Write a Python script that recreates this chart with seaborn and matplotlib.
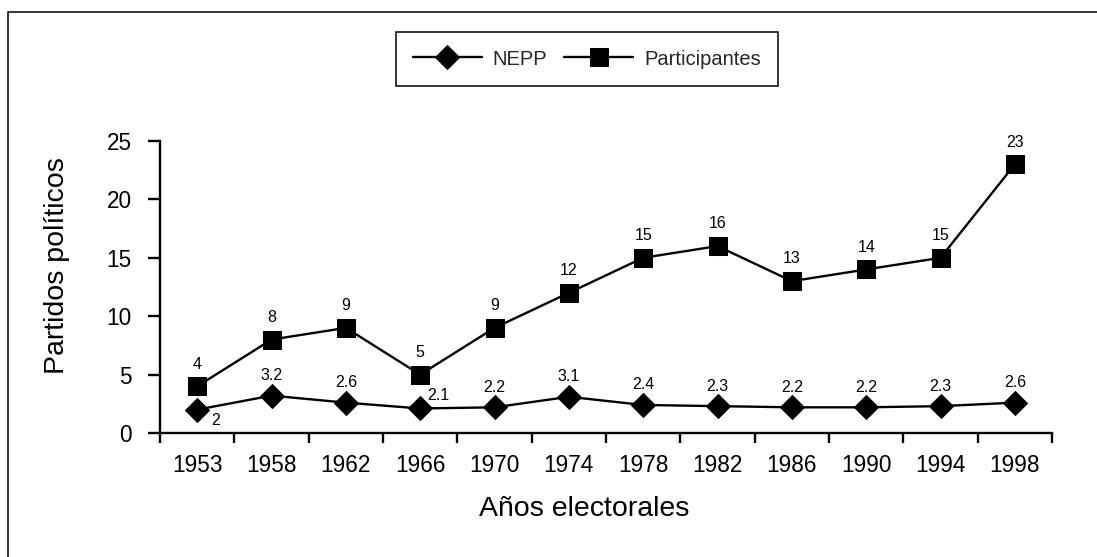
import matplotlib
matplotlib.use('Agg')
import matplotlib.pyplot as plt
import seaborn as sns
import numpy as np
from matplotlib.patches import Rectangle
from matplotlib.ticker import FixedLocator

# ---- data ----
years = ['1953', '1958', '1962', '1966', '1970', '1974',
         '1978', '1982', '1986', '1990', '1994', '1998']
nepp = [2, 3.2, 2.6, 2.1, 2.2, 3.1, 2.4, 2.3, 2.2, 2.2, 2.3, 2.6]
participantes = [4, 8, 9, 5, 9, 12, 15, 16, 13, 14, 15, 23]
y_ticks = [0, 5, 10, 15, 20, 25]
series_names = ['NEPP', 'Participantes']
y_label = 'Partidos políticos'
x_label = 'Años electorales'

sns.set_theme(style='white')
plt.rcParams['font.family'] = ['Liberation Sans', 'DejaVu Sans']

fig = plt.figure(figsize=(10.97, 5.57), dpi=100)
ax = fig.add_axes([0.1459, 0.2226, 0.8131, 0.5243])

sns.lineplot(x=years, y=nepp, marker='D', markersize=12, color='black',
             linewidth=1.7, markeredgecolor='black', label=series_names[0],
             ax=ax, sort=False)
sns.lineplot(x=years, y=participantes, marker='s', markersize=13.5, color='black',
             linewidth=1.7, markeredgecolor='black', label=series_names[1],
             ax=ax, sort=False)

# axes styling
ax.set_xlim(-0.5, len(years) - 0.5)
ax.set_ylim(0, 25)
ax.set_xticks(range(len(years)))
ax.set_xticklabels(years)
ax.xaxis.set_minor_locator(FixedLocator(np.arange(-0.5, len(years), 1.0)))
ax.set_yticks(y_ticks)
ax.tick_params(axis='x', which='major', bottom=True, length=0, pad=15, labelsize=16.3, colors='black')
ax.tick_params(axis='x', which='minor', bottom=True, length=7.5, width=1.7, color='black', direction='out')
ax.tick_params(axis='y', which='major', left=True, length=8.5, width=1.7, pad=12, labelsize=16.3,
               color='black', labelcolor='black', direction='out')
for s in ['top', 'right']:
    ax.spines[s].set_visible(False)
for s in ['left', 'bottom']:
    ax.spines[s].set_linewidth(1.7)
    ax.spines[s].set_color('black')
ax.grid(False)

ax.set_ylabel(y_label, fontsize=20.5, color='black')
ax.yaxis.set_label_coords(-0.101, 0.575)
ax.set_xlabel(x_label, fontsize=20.5, color='black')
ax.xaxis.set_label_coords(0.476, -0.215)

# value labels
special = {0: (13, -7.5), 3: (13, 9)}
for i, v in enumerate(nepp):
    off = special.get(i, (0, 14.5))
    ax.annotate(f"{v:g}", (i, v), xytext=off, textcoords='offset points',
                ha='center', va='center', fontsize=11.5, color='black')
for i, v in enumerate(participantes):
    ax.annotate(f"{v:g}", (i, v), xytext=(0, 16), textcoords='offset points',
                ha='center', va='center', fontsize=11.5, color='black')

# legend
handles, labels = ax.get_legend_handles_labels()
leg = ax.legend(handles, labels, loc='center', bbox_to_anchor=(0.535, 0.894),
                bbox_transform=fig.transFigure, ncol=2, frameon=True, fancybox=False,
                edgecolor='black', fontsize=14.5, handlelength=3.4, handletextpad=0.55,
                columnspacing=0.85, borderpad=0.85, framealpha=1)
leg.get_frame().set_linewidth(1.1)

# outer frame
fig.patches.append(Rectangle((8 / 1097, -0.2), 1.5, (1 - 12 / 557) + 0.2,
                             transform=fig.transFigure, fill=False,
                             edgecolor='black', linewidth=1.1))

fig.savefig('out.png', dpi=100)
